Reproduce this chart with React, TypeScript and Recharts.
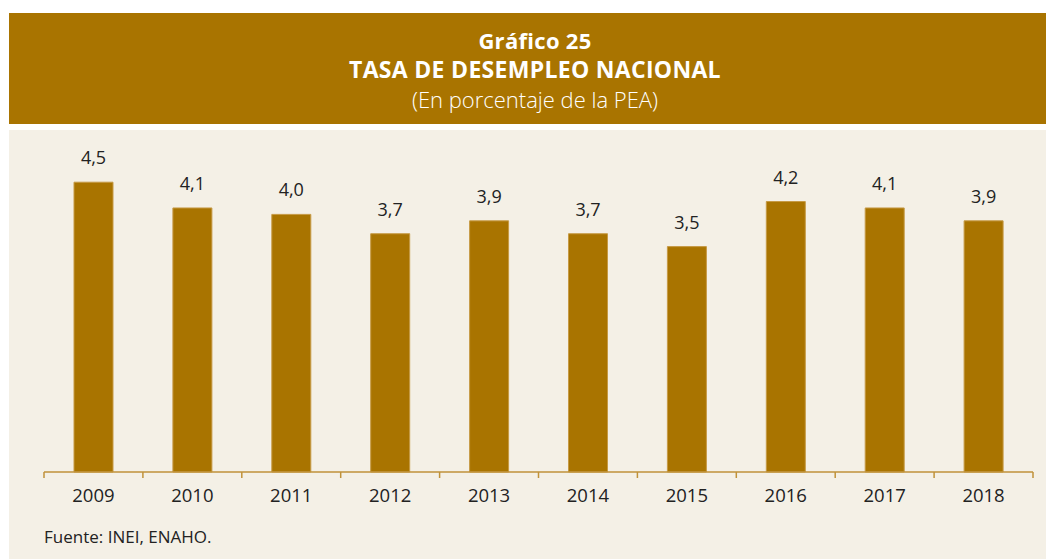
import React from "react";
import { BarChart, Bar, XAxis, YAxis, LabelList } from "recharts";

/* ── Data ─────────────────────────────────────────────────────── */

const years = ["2009", "2010", "2011", "2012", "2013", "2014", "2015", "2016", "2017", "2018"];
const rates = [4.5, 4.1, 4.0, 3.7, 3.9, 3.7, 3.5, 4.2, 4.1, 3.9];

const BROWN = "#A97400";
const BEIGE = "#F4F0E6";
const AXIS = "#C0923A";
const FONT = "'Open Sans', 'Noto Sans', sans-serif";

const data = years.map((y, i) => ({ year: y, rate: rates[i], idx: i }));
const edgeTicks = Array.from({ length: years.length + 1 }, (_, i) => i);

const fmt = (v: number) => v.toFixed(1).replace(".", ",");

/* ── Component ────────────────────────────────────────────────── */

export default function App() {
  return (
    <div
      style={{
        position: "absolute",
        left: 0,
        top: 0,
        width: 1046,
        height: 559,
        background: "#fff",
        fontFamily: FONT,
      }}
    >
      {/* header band */}
      <div
        style={{
          position: "absolute",
          left: 9,
          top: 13,
          width: 1037,
          height: 111,
          background: BROWN,
          color: "#fff",
        }}
      >
        <div style={{ position: "absolute", left: 0, width: 1052, top: 13, textAlign: "center", fontSize: 22, fontWeight: 700, lineHeight: "28px", letterSpacing: 0.3 }}>
          Gráfico 25
        </div>
        <div style={{ position: "absolute", left: 0, width: 1052, top: 42, textAlign: "center", fontSize: 23, fontWeight: 700, lineHeight: "28px", letterSpacing: 0.3 }}>
          TASA DE DESEMPLEO NACIONAL
        </div>
        <div style={{ position: "absolute", left: 0, width: 1052, top: 72, textAlign: "center", fontSize: 22, fontWeight: 300, lineHeight: "28px" }}>
          (En porcentaje de la PEA)
        </div>
      </div>

      {/* plot panel */}
      <div
        style={{
          position: "absolute",
          left: 9,
          top: 130,
          width: 1037,
          height: 429,
          background: BEIGE,
        }}
      >
        <BarChart
          width={1037}
          height={429}
          data={data}
          margin={{ top: 20, right: 13, left: 35, bottom: 56 }}
        >
          <XAxis
            xAxisId="a_edges"
            dataKey="idx"
            type="number"
            domain={[0, years.length]}
            allowDataOverflow
            ticks={edgeTicks}
            height={1}
            tickFormatter={() => ""}
            axisLine={{ stroke: AXIS, strokeWidth: 1.5 }}
            tickLine={{ stroke: AXIS, strokeWidth: 1.5 }}
            tickSize={6}
          />
          <XAxis
            xAxisId="b_cat"
            dataKey="year"
            height={30}
            axisLine={false}
            tickLine={false}
            tickSize={0}
            tickMargin={16}
            interval={0}
            tick={{ fill: "#222", fontSize: 18.5, fontFamily: FONT }}
          />
          <YAxis hide domain={[0, 5]} />
          <Bar
            xAxisId="b_cat"
            dataKey="rate"
            fill={BROWN}
            stroke="#C69A45"
            strokeWidth={1}
            barSize={39}
            isAnimationActive={false}
          >
            <LabelList
              dataKey="rate"
              position="top"
              offset={18}
              formatter={(v: number) => fmt(v)}
              style={{ fill: "#222", fontSize: 18, fontFamily: FONT }}
            />
          </Bar>
        </BarChart>
      </div>

      <div
        style={{
          position: "absolute",
          left: 44,
          top: 525,
          fontSize: 17,
          color: "#222",
          lineHeight: "24px",
        }}
      >
        Fuente: INEI, ENAHO.
      </div>
    </div>
  );
}
